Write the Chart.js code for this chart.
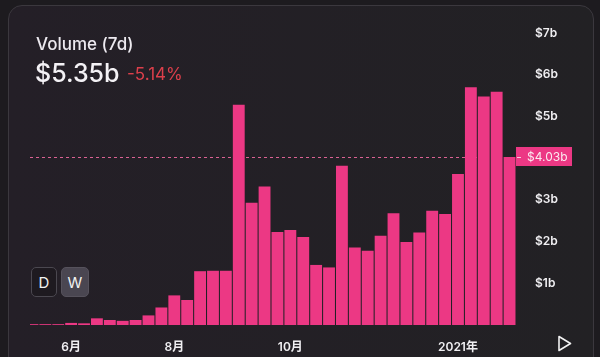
<!DOCTYPE html>
<html>
<head>
<meta charset="utf-8">
<script src="https://cdn.jsdelivr.net/npm/chart.js@4/dist/chart.umd.min.js"></script>
<style>
  html, body { margin: 0; padding: 0; background: #1d1b1f; width: 600px; height: 357px; overflow: hidden; font-family: Inter, "Noto Sans", sans-serif; }
  #card { position: absolute; left: 8px; top: 5px; width: 586px; height: 380px; border: 1px solid #3b383e; border-radius: 14px; background: linear-gradient(90deg, #241f27 0%, #222124 100%); box-sizing: border-box; }
  #c { position: absolute; left: 0; top: 0; }
  .t1 { position: absolute; left: 36px; top: 34px; font-size: 17px; font-weight: 500; color: #ece9ef; }
  .t2 { position: absolute; left: 35px; top: 58px; font-size: 25px; font-weight: 500; color: #f3f1f5; }
  .t3 { position: absolute; left: 127px; top: 64px; font-size: 17px; color: #dc3f4b; }
  .btn { position: absolute; top: 267px; height: 30px; border-radius: 5px; box-sizing: border-box; color: #f2f2f2; font-size: 15px; display: flex; align-items: center; justify-content: center; }
  #bd { left: 31px; width: 26px; background: #1e1a20; border: 1px solid #4b4850; }
  #bw { left: 61px; width: 28px; background: #4a4651; border: 1px solid #56525c; }
  #play { position: absolute; left: 557px; top: 335px; }
</style>
</head>
<body>
<div id="card"></div>
<canvas id="c" width="600" height="357"></canvas>
<div class="t1">Volume (7d)</div>
<div class="t2">$5.35b</div>
<div class="t3">-5.14%</div>
<div class="btn" id="bd">D</div>
<div class="btn" id="bw">W</div>
<svg id="play" width="16" height="18"><path d="M2 1.5 L13.5 8.5 L2 15.5 Z" fill="none" stroke="#f2f2f2" stroke-width="1.6" stroke-linejoin="round"/></svg>
<script>
const weeks = ['2020-05-18','2020-05-25','2020-06-01','2020-06-08','2020-06-15','2020-06-22','2020-06-29','2020-07-06','2020-07-13','2020-07-20',
  '2020-07-27','2020-08-03','2020-08-10','2020-08-17','2020-08-24','2020-08-31','2020-09-07','2020-09-14','2020-09-21','2020-09-28',
  '2020-10-05','2020-10-12','2020-10-19','2020-10-26','2020-11-02','2020-11-09','2020-11-16','2020-11-23','2020-11-30','2020-12-07',
  '2020-12-14','2020-12-21','2020-12-28','2021-01-04','2021-01-11','2021-01-18','2021-01-25','2021-02-01'];
const volume = [0.02,0.02,0.02,0.05,0.04,0.16,0.12,0.10,0.12,0.23,
  0.42,0.71,0.60,1.29,1.30,1.30,5.28,2.93,3.32,2.23,
  2.28,2.11,1.44,1.38,3.82,1.86,1.78,2.14,2.68,1.99,
  2.22,2.74,2.66,3.62,5.70,5.48,5.59,4.03];
const tickIndex = [3, 11, 20, 33];
const tickText = ['6月', '8月', '10月', '2021年'];
const yTicks = [1, 2, 3, 5, 6, 7];
const currentValue = 4.03;
const currentLabel = '$4.03b';

const PINK = 'rgb(236,56,132)';

const refLine = {
  id: 'refLine',
  beforeDatasetsDraw(chart) {
    const { ctx, chartArea, scales } = chart;
    const y = Math.round(scales.y.getPixelForValue(currentValue)) + 0.5;
    ctx.save();
    ctx.strokeStyle = 'rgba(238,105,160,0.9)';
    ctx.lineWidth = 1;
    ctx.setLineDash([3, 3]);
    ctx.beginPath();
    ctx.moveTo(chartArea.left + 4, y);
    ctx.lineTo(chartArea.right, y);
    ctx.stroke();
    ctx.restore();
  },
  afterDraw(chart) {
    const { ctx, chartArea, scales } = chart;
    const y = scales.y.getPixelForValue(currentValue);
    ctx.save();
    ctx.fillStyle = PINK;
    ctx.fillRect(chartArea.right, Math.round(y) - 10, 56, 19);
    ctx.fillStyle = 'rgba(250,220,232,0.9)';
    ctx.fillRect(chartArea.right + 1, Math.round(y), 4, 1);
    ctx.fillStyle = '#fbe9f0';
    ctx.font = '12px Inter, "Noto Sans", sans-serif';
    ctx.textBaseline = 'middle';
    ctx.textAlign = 'left';
    ctx.fillText(currentLabel, chartArea.right + 11, Math.round(y));
    ctx.restore();
  }
};

new Chart(document.getElementById('c'), {
  type: 'bar',
  data: {
    labels: weeks,
    datasets: [{
      data: volume,
      backgroundColor: PINK,
      borderWidth: 0,
      barPercentage: 0.92,
      categoryPercentage: 1,
      clip: { left: -4, top: 0, right: 0, bottom: 0 }
    }]
  },
  options: {
    responsive: false,
    animation: false,
    devicePixelRatio: 1,
    layout: { padding: { left: 26, top: 33, right: 0, bottom: 0 } },
    plugins: { legend: { display: false }, tooltip: { enabled: false } },
    scales: {
      x: {
        grid: { display: false },
        border: { display: false },
        ticks: {
          autoSkip: false, maxRotation: 0, minRotation: 0, padding: 7,
          color: '#f0eff2',
          font: { family: 'Inter, "Noto Sans CJK SC", sans-serif', size: 12, weight: '600' },
          callback: (v, i) => { const k = tickIndex.indexOf(i); return k >= 0 ? tickText[k] : ''; }
        },
        afterFit(s) { s.height = 32; }
      },
      y: {
        position: 'right',
        min: 0, max: 7,
        grid: { display: false },
        border: { display: false },
        ticks: {
          stepSize: 1, padding: 11,
          color: '#f0eff2',
          font: { family: 'Inter, sans-serif', size: 12, weight: '600' },
          callback: v => yTicks.includes(v) ? '$' + v + 'b' : ''
        },
        afterFit(s) { s.width = 84; }
      }
    }
  },
  plugins: [refLine]
});
</script>
</body>
</html>
